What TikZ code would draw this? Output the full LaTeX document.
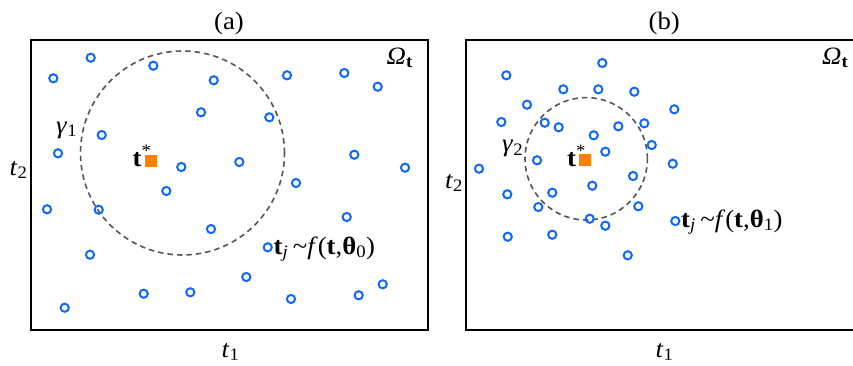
\documentclass[tikz,border=0pt]{standalone}
\usepackage{fontspec}
\usepackage{graphicx}
\setmainfont{Liberation Serif}
\newcommand{\hwide}[1]{\scalebox{1.07}[1]{#1}}
\definecolor{sampblue}{RGB}{15,105,255}
\definecolor{starorange}{RGB}{255,128,0}
\definecolor{dashgray}{RGB}{85,85,85}
\begin{document}
\begin{tikzpicture}[x=1pt,y=-1pt,
  samp/.style={circle,draw=sampblue,line width=2pt,minimum size=8.2pt,inner sep=0pt},
  star/.style={fill=starorange,minimum size=12pt,inner sep=0pt},
  region/.style={draw=black,line width=1.8pt},
  nbhd/.style={draw=dashgray,line width=1.6pt,dash pattern=on 5.5pt off 4pt},
  lbl/.style={inner sep=0pt,font=\fontsize{25}{29}\selectfont},
  slbl/.style={inner sep=0pt,font=\fontsize{25}{29}\selectfont}]
\useasboundingbox (0,0) rectangle (853,365);
% ---------- panel (a)
\draw[region] (30.7,40) rectangle (427.7,330);
\node[lbl,anchor=base] (ta) at (229,29) {\hwide{(a)}};
\node[lbl,anchor=base west] (t1a) at (221.5,357) {\hwide{\textit{t}\textsubscript{1}}};
\node[lbl,anchor=base west] (t2a) at (9.5,175) {\hwide{\textit{t}\textsubscript{2}}};
\node[lbl,anchor=base west] (oma) at (386.5,64) {\hwide{\textit{Ω}\textsubscript{\textbf{t}}}};
\node[nbhd,circle,minimum size=204pt] (ga) at (182.5,153) {};
\node[slbl,anchor=base west] (gla) at (56,133) {\hwide{\textit{γ}\textsubscript{1}}};
\node[star] (sa) at (150.7,160.7) {};
\node[lbl,anchor=base west] (tsa) at (132.5,166) {\hwide{\textbf{t}\textsuperscript{*}}};
\node[lbl,anchor=base west] (fa) at (273.5,254) {\hwide{\textbf{t}\textsubscript{\textit{j}}\,\textasciitilde\textit{f}(\textbf{t},\textbf{θ}\textsubscript{0})}};
\foreach \i/\x/\y in {1/90.7/57.7,2/53.3/78.3,3/153.3/65.7,4/213.7/80.3,5/287/75.3,
  6/344.3/73,7/377.7/86.7,8/201/112.3,9/269.3/117.3,10/101.7/135,11/58/153.3,
  12/181.3/167,13/239.3/162,14/354.3/154.7,15/405/167.7,16/296/183,17/166.3/191,
  18/47/209.3,19/98.7/209.7,20/346.7/217,21/211/229,22/90/254.7,23/267.7/247.3,
  24/246.3/277,25/143.7/293.7,26/190.3/292.3,27/291/299,28/358.7/295.3,
  29/382.7/284.3,30/64.7/307.7}
  \node[samp] (a\i) at (\x,\y) {};
% ---------- panel (b)
\draw[region] (856,40) -- (465.7,40) -- (465.7,330) -- (856,330);
\node[lbl,anchor=base] (tb) at (664.3,29) {\hwide{(b)}};
\node[lbl,anchor=base west] (t1b) at (655.5,357) {\hwide{\textit{t}\textsubscript{1}}};
\node[lbl,anchor=base west] (t2b) at (445,188) {\hwide{\textit{t}\textsubscript{2}}};
\node[lbl,anchor=base west] (omb) at (822,64) {\hwide{\textit{Ω}\textsubscript{\textbf{t}}}};
\node[nbhd,circle,minimum size=122.4pt] (gb) at (586.2,158.8) {};
\node[slbl,anchor=base west] (glb) at (502,151.7) {\hwide{\textit{γ}\textsubscript{2}}};
\node[star] (sb) at (585.3,160.3) {};
\node[lbl,anchor=base west] (tsb) at (567,166) {\hwide{\textbf{t}\textsuperscript{*}}};
\node[lbl,anchor=base west] (fb) at (681,227) {\hwide{\textbf{t}\textsubscript{\textit{j}}\,\textasciitilde\textit{f}(\textbf{t},\textbf{θ}\textsubscript{1})}};
\foreach \i/\x/\y in {1/602.3/63,2/506.3/75.3,3/563.3/89.3,4/598.3/89.3,5/634.3/91.7,
  6/527/104.7,7/674.3/109.3,8/501.3/122,9/544.7/122.7,10/558.7/127.3,
  11/618.3/126.3,12/644.3/123.3,13/593.7/135.3,14/651.7/145,15/605.3/151.7,
  16/537/160.3,17/672.7/163.7,18/479/168.7,19/633/176,20/592.3/185.7,
  21/507.3/194.3,22/552.3/192.7,23/538.3/207,24/638.3/206.3,25/589.7/218.7,
  26/605.3/225.7,27/675.3/221,28/507.7/236.7,29/552.3/234.7,30/627.7/255.3}
  \node[samp] (b\i) at (\x,\y) {};
\end{tikzpicture}
\end{document}
